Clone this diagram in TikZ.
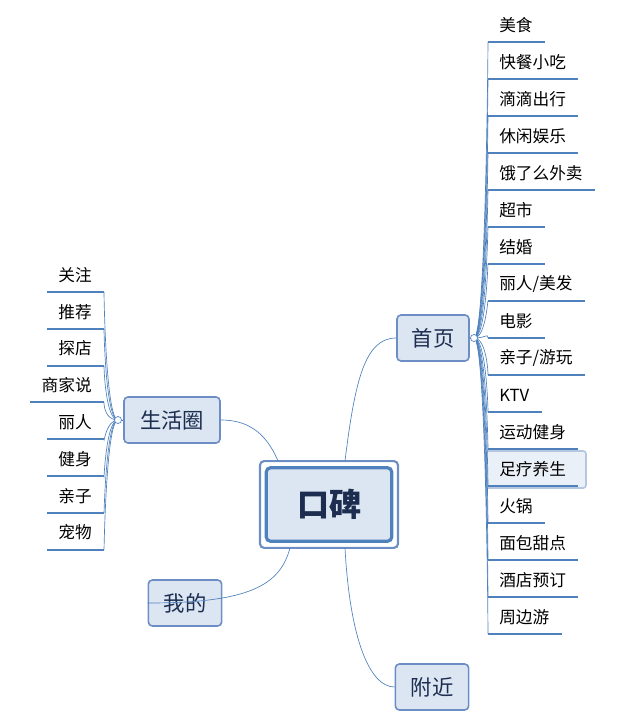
\documentclass[tikz,border=0pt]{standalone}
\usepackage{fontspec}
\setmainfont{Noto Sans CJK SC}
\usetikzlibrary{calc}
\definecolor{ln}{RGB}{79,129,189}
\definecolor{bf}{RGB}{220,230,242}
\definecolor{bd}{RGB}{108,142,196}
\definecolor{tx}{RGB}{28,45,80}
\tikzset{
 branch/.style={draw=bd,fill=bf,rounded corners=3pt,line width=1.2pt,minimum height=34.5pt,text=tx,font=\fontsize{16}{18}\selectfont,inner xsep=7pt},
 leaf/.style={inner sep=0pt,font=\fontsize{12.5}{14}\selectfont},
 uline/.style={draw=ln,line width=1.6pt},
 conn/.style={draw=ln,line width=0.5pt},
}
\begin{document}
\begin{tikzpicture}[x=0.75pt,y=-0.75pt]
\useasboundingbox (0,0) rectangle (628,724);
% center
\node[draw=bd,line width=1.6pt,rounded corners=3pt,minimum width=103.5pt,minimum height=65pt] (c) at (329,504.5) {};
\node[draw=ln,fill=bf,line width=2.4pt,rounded corners=3pt,minimum width=94pt,minimum height=55pt,text=tx,font=\fontsize{24}{28}\selectfont\bfseries] (ci) at (329,504.5) {口碑};
% branches
\node[branch,minimum width=54pt] (sy) at (433,338) {首页};
\node[branch,minimum width=72pt] (sh) at (172,420) {生活圈};
\node[branch,minimum width=55pt] (wd) at (185,603) {我的};
\node[branch,minimum width=55pt] (fj) at (432,687) {附近};
\draw[conn] (345,461) .. controls (355,380) and (365,338) .. (sy.west);
\draw[conn] (278,461) .. controls (265,430) and (245,420) .. (sh.east);
\draw[conn] (290,548) .. controls (280,585) and (250,603) .. (wd.west);
\draw[conn] (345,548) .. controls (350,640) and (370,687) .. (fj.west);
% right leaves
\coordinate (rc) at (474,338);
\draw[conn] (sy.east) -- (rc);
\fill[bf!60!white,draw=bd!50!white,line width=1.2pt,rounded corners=2pt] (486,451) rectangle (586,488);
\foreach \t [count=\i from 0] in {美食,快餐小吃,滴滴出行,休闲娱乐,饿了么外卖,超市,结婚,丽人/美发,电影,亲子/游玩,KTV,运动健身,足疗养生,火锅,面包甜点,酒店预订,周边游}{
  \pgfmathsetmacro{\yy}{25+37*\i}
  \node[leaf,anchor=west] (r\i) at (499,\yy) {\t};
  \coordinate (ru\i) at (488,\yy+17);
  \draw[uline] (ru\i) -- ($(r\i.east |- ru\i)+(12,0)$);
  \draw[conn] (rc) .. controls (486,338) and (488,\yy+12) .. (ru\i);
}
\draw[conn,fill=white] (rc) circle (3.5);
% left leaves
\coordinate (lc) at (118,420);
\draw[conn] (sh.west) -- (lc);
\foreach \t [count=\i from 0] in {关注,推荐,探店,商家说,丽人,健身,亲子,宠物}{
  \pgfmathsetmacro{\yy}{275+36.8*\i}
  \node[leaf,anchor=east] (l\i) at (92,\yy) {\t};
  \coordinate (lu\i) at (104,\yy+17);
  \draw[uline] (lu\i) -- ($(l\i.west |- lu\i)-(11,0)$);
  \draw[conn] (lc) .. controls (106,420) and (104,\yy+22) .. (lu\i);
}
\draw[conn,fill=white] (lc) circle (3.5);
\end{tikzpicture}
\end{document}
